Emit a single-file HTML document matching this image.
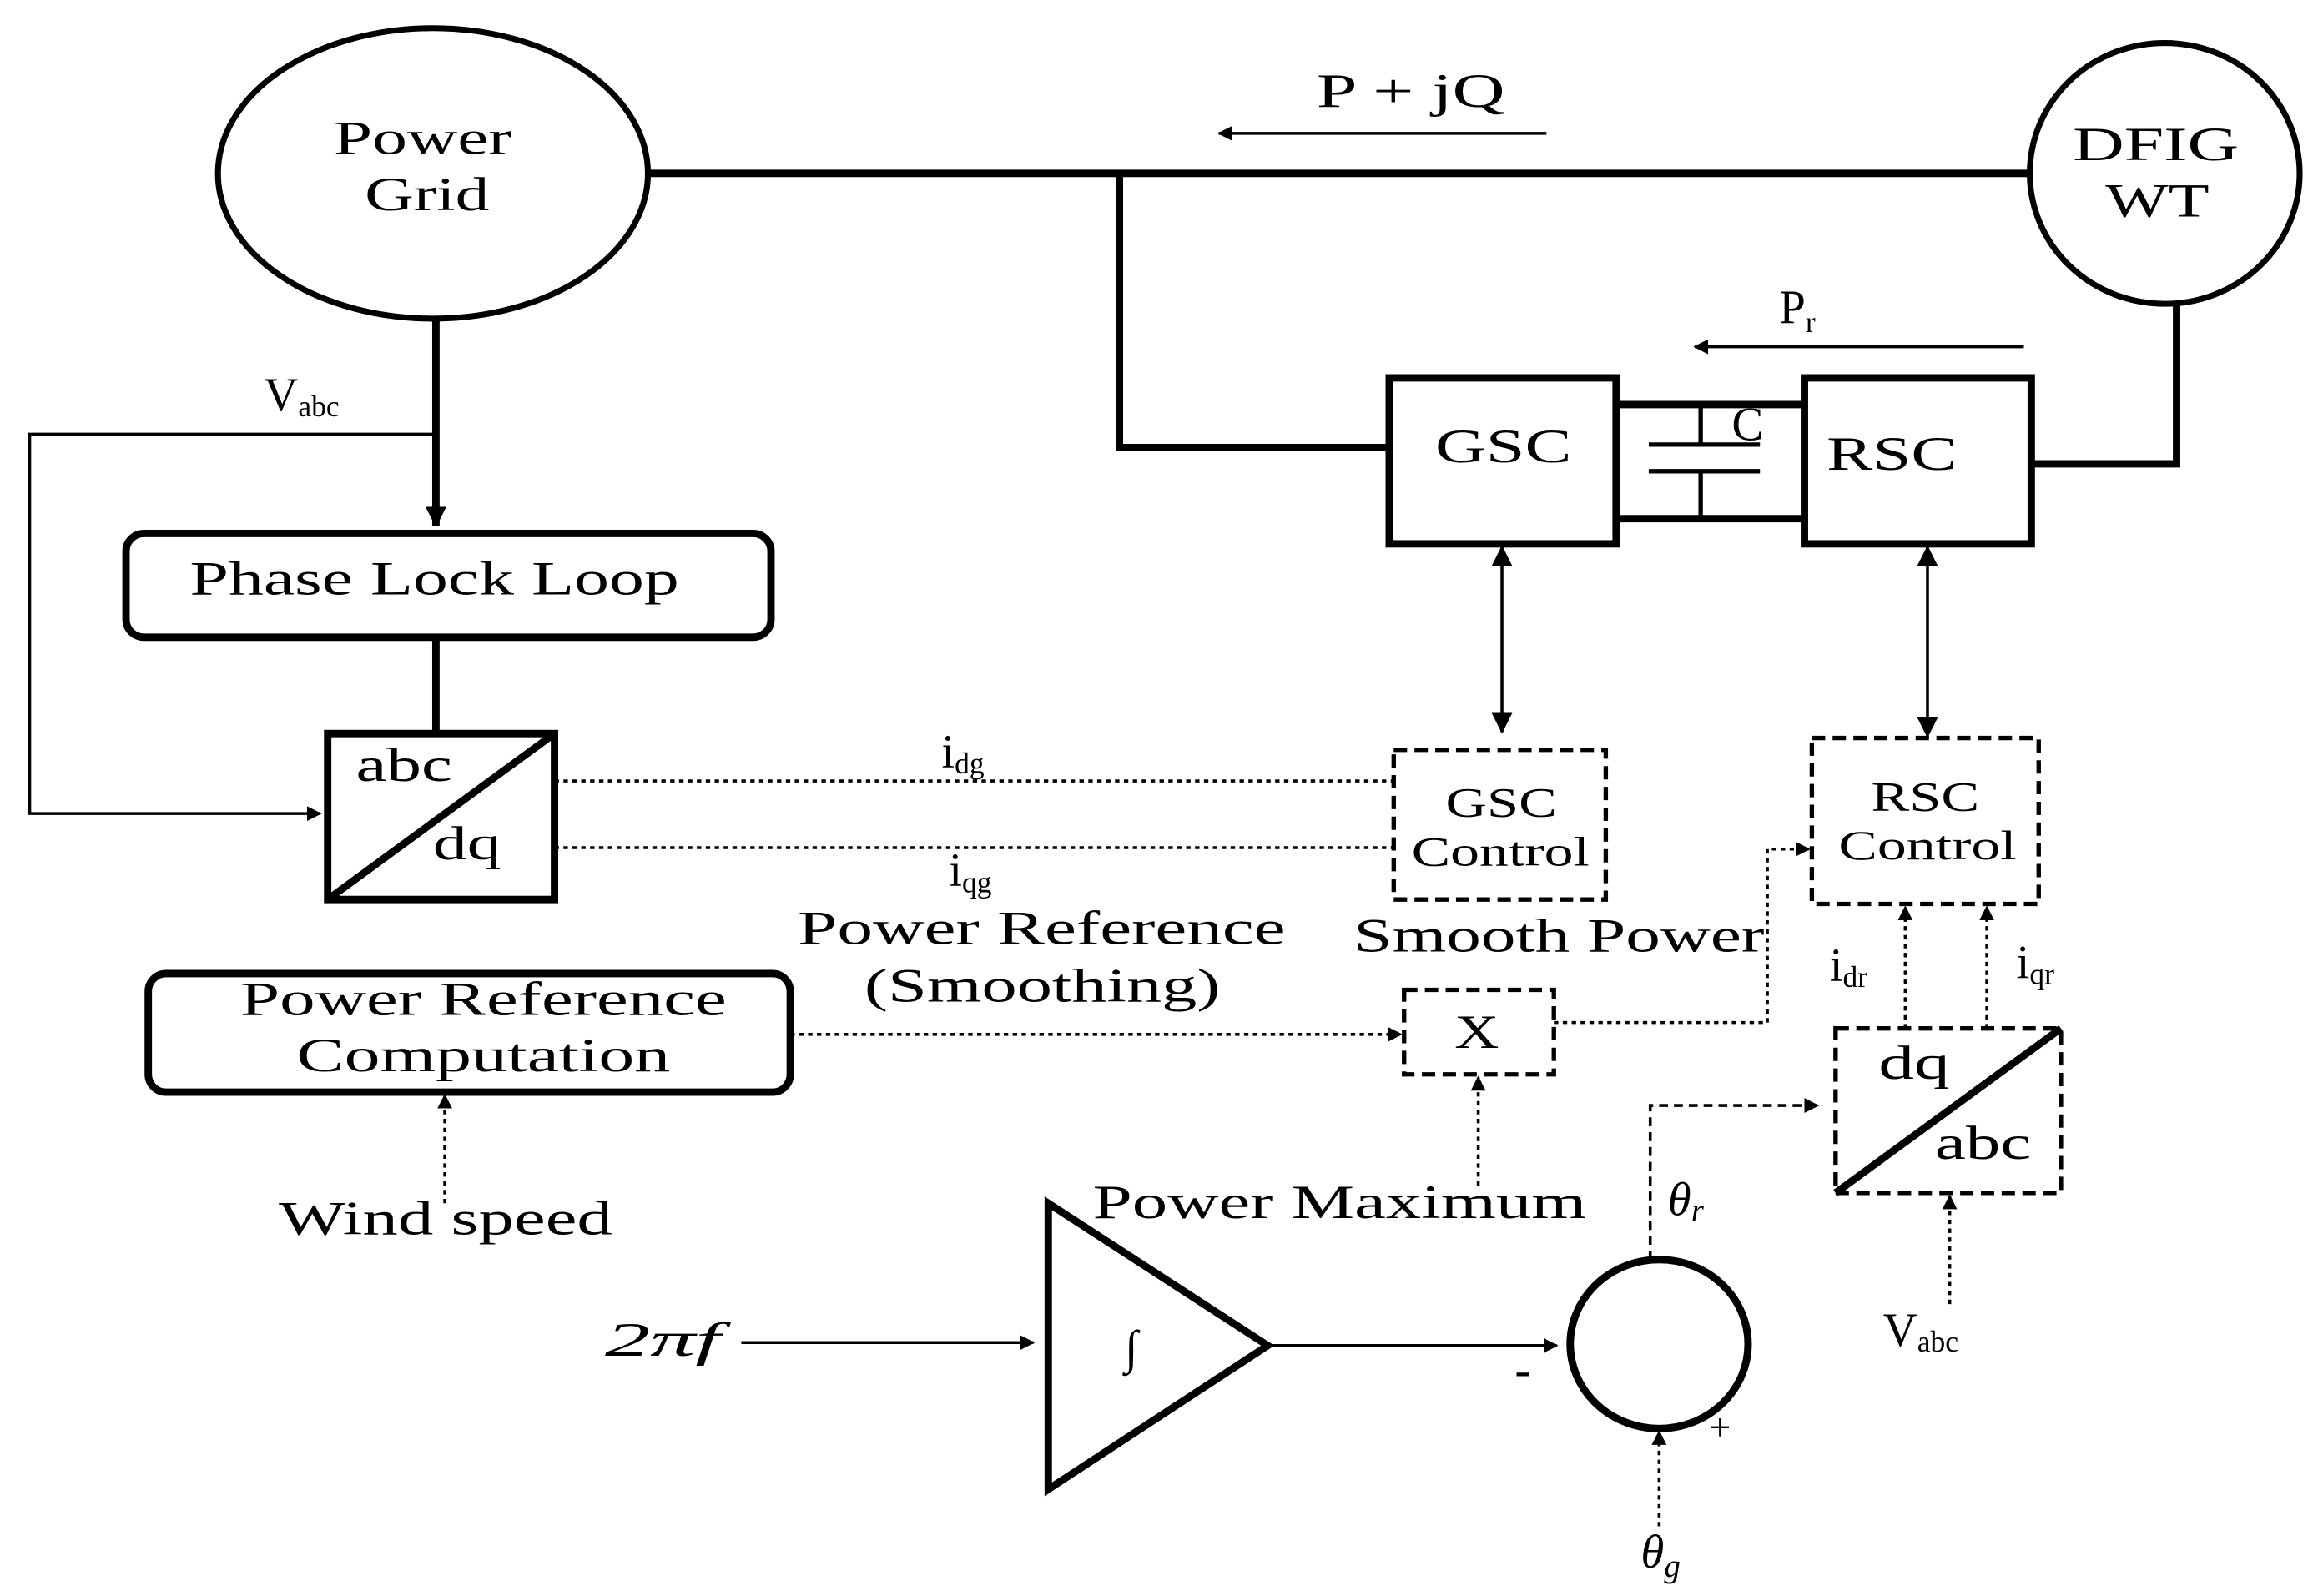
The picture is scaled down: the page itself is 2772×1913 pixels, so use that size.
<!DOCTYPE html>
<html><head><meta charset="utf-8"><style>
html,body{margin:0;padding:0;background:#fff;}
svg{display:block;}
text{font-family:"Liberation Serif",serif;fill:#000;}
</style></head><body>
<svg width="2772" height="1913" viewBox="0 0 1560 1077" preserveAspectRatio="none" xmlns="http://www.w3.org/2000/svg">
<defs>
<marker id="a" markerWidth="10" markerHeight="10" refX="9" refY="5" orient="auto" markerUnits="userSpaceOnUse" viewBox="0 0 10 10"><path d="M0,0 L10,5 L0,10 z" fill="#000"/></marker>
<marker id="b" markerWidth="14" markerHeight="14" refX="13" refY="7" orient="auto-start-reverse" markerUnits="userSpaceOnUse" viewBox="0 0 14 14"><path d="M0,0 L14,7 L0,14 z" fill="#000"/></marker>
</defs>
<g fill="none" stroke="#000">
<ellipse cx="292" cy="117" rx="145" ry="98" stroke-width="4"/>
<ellipse cx="1460" cy="117" rx="91" ry="88" stroke-width="4"/>
<line x1="437" y1="117" x2="1369" y2="117" stroke-width="5"/>
<polyline points="755,117 755,302 937,302" stroke-width="5"/>
<line x1="1043" y1="90" x2="822" y2="90" stroke-width="2" marker-end="url(#a)"/>
<line x1="1365" y1="234" x2="1143" y2="234" stroke-width="2" marker-end="url(#a)"/>
<rect x="937" y="255" width="153" height="112" stroke-width="5"/>
<rect x="1217" y="255" width="153" height="112" stroke-width="5"/>
<line x1="1090" y1="273" x2="1217" y2="273" stroke-width="5"/>
<line x1="1090" y1="350" x2="1217" y2="350" stroke-width="5"/>
<line x1="1147" y1="273" x2="1147" y2="300" stroke-width="3"/>
<line x1="1147" y1="318" x2="1147" y2="350" stroke-width="3"/>
<line x1="1112" y1="300" x2="1187" y2="300" stroke-width="3"/>
<line x1="1112" y1="318" x2="1187" y2="318" stroke-width="3"/>
<polyline points="1468,205 1468,313 1370,313" stroke-width="5"/>
<line x1="294" y1="215" x2="294" y2="355" stroke-width="5" marker-end="url(#b)"/>
<polyline points="294,293 20,293 20,549 216,549" stroke-width="2" marker-end="url(#a)"/>
<rect x="85" y="360" width="435" height="70" rx="12" stroke-width="5"/>
<line x1="294" y1="430" x2="294" y2="495" stroke-width="5"/>
<rect x="221" y="495" width="153" height="112" stroke-width="5"/>
<line x1="221" y1="607" x2="374" y2="495" stroke-width="5"/>
<line x1="374" y1="527" x2="940" y2="527" stroke-width="2" stroke-dasharray="3,3"/>
<line x1="374" y1="572" x2="940" y2="572" stroke-width="2" stroke-dasharray="3,3"/>
<rect x="940" y="506" width="143" height="101" stroke-width="3" stroke-dasharray="9,5"/>
<rect x="1222" y="498" width="153" height="112" stroke-width="3" stroke-dasharray="9,5"/>
<line x1="1013" y1="369" x2="1013" y2="494" stroke-width="2" marker-start="url(#b)" marker-end="url(#b)"/>
<line x1="1300" y1="369" x2="1300" y2="497" stroke-width="2" marker-start="url(#b)" marker-end="url(#b)"/>
<rect x="100" y="657" width="433" height="80" rx="12" stroke-width="5"/>
<line x1="533" y1="698" x2="945" y2="698" stroke-width="2" stroke-dasharray="3,3" marker-end="url(#a)"/>
<rect x="947" y="668" width="101" height="57" stroke-width="3" stroke-dasharray="9,5"/>
<polyline points="1048,690 1192,690 1192,573 1220,573" stroke-width="2" stroke-dasharray="3,3" marker-end="url(#a)"/>
<line x1="997" y1="800" x2="997" y2="727" stroke-width="2" stroke-dasharray="3,3" marker-end="url(#a)"/>
<line x1="300" y1="812" x2="300" y2="739" stroke-width="2" stroke-dasharray="3,3" marker-end="url(#a)"/>
<rect x="1238" y="694" width="152" height="111" stroke-width="3" stroke-dasharray="9,5"/>
<line x1="1238" y1="805" x2="1390" y2="694" stroke-width="5"/>
<line x1="1285" y1="694" x2="1285" y2="612" stroke-width="2" stroke-dasharray="3,3" marker-end="url(#a)"/>
<line x1="1340" y1="694" x2="1340" y2="612" stroke-width="2" stroke-dasharray="3,3" marker-end="url(#a)"/>
<line x1="1315" y1="880" x2="1315" y2="807" stroke-width="2" stroke-dasharray="3,3" marker-end="url(#a)"/>
<polygon points="707,812 707,1005 855,908" stroke-width="5"/>
<line x1="500" y1="906" x2="697" y2="906" stroke-width="2" marker-end="url(#a)"/>
<line x1="855" y1="908" x2="1050" y2="908" stroke-width="2" marker-end="url(#a)"/>
<ellipse cx="1119" cy="907" rx="60" ry="57" stroke-width="5"/>
<polyline points="1113,850 1113,746 1226,746" stroke-width="2" stroke-dasharray="6,4" marker-end="url(#a)"/>
<line x1="1119" y1="1030" x2="1119" y2="966" stroke-width="2" stroke-dasharray="3,3" marker-end="url(#a)"/>
</g>
<g font-size="32">
<text x="225" y="104" textLength="120" lengthAdjust="spacingAndGlyphs">Power</text>
<text x="246" y="142" textLength="84" lengthAdjust="spacingAndGlyphs">Grid</text>
<text x="1398" y="108" textLength="112" lengthAdjust="spacingAndGlyphs">DFIG</text>
<text x="1420" y="146" textLength="70" lengthAdjust="spacingAndGlyphs">WT</text>
<text x="888" y="72" textLength="127" lengthAdjust="spacingAndGlyphs">P + jQ</text>
<text x="1200" y="218">P<tspan font-size="20" dy="6">r</tspan></text>
<text x="968" y="312" textLength="92" lengthAdjust="spacingAndGlyphs">GSC</text>
<text x="1232" y="317" textLength="88" lengthAdjust="spacingAndGlyphs">RSC</text>
<text x="1168" y="297">C</text>
<text x="178" y="277">V<tspan font-size="20" dy="4">abc</tspan></text>
<text x="128" y="401" textLength="330" lengthAdjust="spacingAndGlyphs">Phase Lock Loop</text>
<text x="240" y="527" textLength="65" lengthAdjust="spacingAndGlyphs">abc</text>
<text x="292" y="580" textLength="46" lengthAdjust="spacingAndGlyphs">dq</text>
<text x="635" y="518">i<tspan font-size="20" dy="4">dg</tspan></text>
<text x="640" y="598">i<tspan font-size="20" dy="4">qg</tspan></text>
<text x="975" y="551" font-size="28" textLength="75" lengthAdjust="spacingAndGlyphs">GSC</text>
<text x="952" y="584" font-size="28" textLength="120" lengthAdjust="spacingAndGlyphs">Control</text>
<text x="1262" y="547" font-size="28" textLength="73" lengthAdjust="spacingAndGlyphs">RSC</text>
<text x="1240" y="580" font-size="28" textLength="120" lengthAdjust="spacingAndGlyphs">Control</text>
<text x="913" y="642" textLength="277" lengthAdjust="spacingAndGlyphs">Smooth Power</text>
<text x="538" y="637" textLength="329" lengthAdjust="spacingAndGlyphs">Power Reference</text>
<text x="583" y="676" textLength="240" lengthAdjust="spacingAndGlyphs">(Smoothing)</text>
<text x="162" y="685" textLength="328" lengthAdjust="spacingAndGlyphs">Power Reference</text>
<text x="200" y="723" textLength="252" lengthAdjust="spacingAndGlyphs">Computation</text>
<text x="981" y="707" textLength="30" lengthAdjust="spacingAndGlyphs">X</text>
<text x="188" y="833" textLength="225" lengthAdjust="spacingAndGlyphs">Wind speed</text>
<text x="737" y="822" textLength="333" lengthAdjust="spacingAndGlyphs">Power Maximum</text>
<text x="1234" y="662">i<tspan font-size="20" dy="4">dr</tspan></text>
<text x="1360" y="660">i<tspan font-size="20" dy="4">qr</tspan></text>
<text x="1267" y="728" textLength="48" lengthAdjust="spacingAndGlyphs">dq</text>
<text x="1305" y="782" textLength="65" lengthAdjust="spacingAndGlyphs">abc</text>
<text x="1270" y="908">V<tspan font-size="20" dy="4">abc</tspan></text>
<text x="763" y="920" text-anchor="middle">∫</text>
<text x="408" y="915" font-style="italic" textLength="78" lengthAdjust="spacingAndGlyphs">2πf</text>
<text x="1027" y="935" text-anchor="middle">-</text>
<text x="1160" y="972" text-anchor="middle" font-size="26">+</text>
<text x="1137" y="820" text-anchor="middle" font-style="italic">θ<tspan font-size="22" dy="4">r</tspan></text>
<text x="1120" y="1058" text-anchor="middle" font-style="italic">θ<tspan font-size="22" dy="6">g</tspan></text>
</g>
</svg>
</body></html>
